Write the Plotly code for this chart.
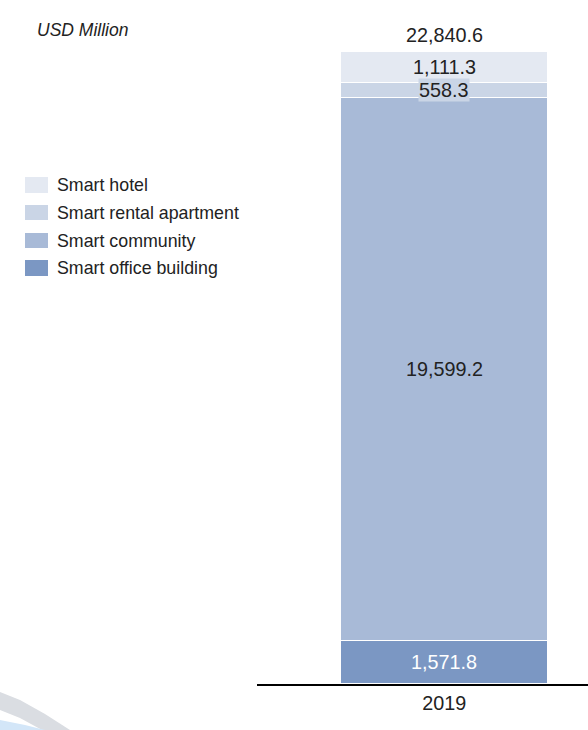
import plotly.graph_objects as go

categories = ["2019"]
series_names = ["Smart office building", "Smart community", "Smart rental apartment", "Smart hotel"]
series_values = [[1571.8], [19599.2], [558.3], [1111.3]]
series_colors = ["#7b97c3", "#a8bad7", "#cad5e6", "#e4e9f2"]
value_labels = ["1,571.8", "19,599.2", "558.3", "1,111.3"]
total_value = 22840.6
total_label = "22,840.6"
unit_label = "USD Million"

FONT = "Liberation Sans, Arial, sans-serif"
VAL_SIZE = 19.8

fig = go.Figure()
for name, vals, col in zip(series_names, series_values, series_colors):
    fig.add_trace(go.Bar(
        x=categories, y=vals, name=name, marker_color=col,
        marker_line_color="white", marker_line_width=1.5,
        width=0.625, showlegend=False, hoverinfo="skip",
    ))

# value labels
cat_idx = 0
cum = 0
for i, (vals, lab) in enumerate(zip(series_values, value_labels)):
    v = vals[0]
    mid = cum + v / 2
    cum += v
    kw = dict(x=cat_idx, y=mid, text=lab, showarrow=False)
    if i == 0:
        fig.add_annotation(**kw, font=dict(family=FONT, size=VAL_SIZE, color="white"))
    elif i == 2:
        fig.add_annotation(**kw, bgcolor=series_colors[2], borderpad=0,
                           font=dict(family=FONT, size=VAL_SIZE, color="#222222"))
    else:
        fig.add_annotation(**kw, font=dict(family=FONT, size=VAL_SIZE, color="#222222"))

fig.add_annotation(x=cat_idx, y=total_value, text=total_label, showarrow=False,
                   yanchor="bottom", yshift=4,
                   font=dict(family=FONT, size=VAL_SIZE, color="#222222"))

fig.add_annotation(xref="paper", yref="paper", x=(35 - 257) / 331, y=(684 - 30) / 632,
                   text="<i>" + unit_label + "</i>", showarrow=False,
                   xanchor="left", yanchor="middle",
                   font=dict(family=FONT, size=17.5, color="#222222"))

# custom legend (top to bottom: hotel, rental, community, office)
legend_rows = [(177, 193), (205, 220), (233, 248), (260, 276)]
shapes = []
for (y0, y1), name, col in zip(legend_rows, series_names[::-1], series_colors[::-1]):
    shapes.append(dict(type="rect", xref="paper", yref="paper",
                       x0=(25 - 257) / 331, x1=(48 - 257) / 331,
                       y0=(684 - y1) / 632, y1=(684 - y0) / 632,
                       fillcolor=col, line=dict(width=0), layer="above"))
    fig.add_annotation(xref="paper", yref="paper", x=(55 - 257) / 331,
                       y=(684 - (y0 + y1) / 2) / 632, text=name, showarrow=False,
                       xanchor="left", yanchor="middle",
                       font=dict(family=FONT, size=17.8, color="#222222"))

# decorative swoosh bottom-left
def px(xp, yp):
    return (xp - 257) / 331, (684 - yp) / 632

def path(points):
    s = ""
    for k, (a, b) in enumerate(points):
        X, Y = px(a, b)
        s += ("M" if k == 0 else " L") + f" {X:.4f} {Y:.4f}"
    return s + " Z"

shapes.append(dict(type="path", xref="paper", yref="paper",
                   path=path([(0, 692), (20, 700), (45, 714), (70, 730), (42, 730), (20, 718), (0, 710)]),
                   fillcolor="#dadde2", line=dict(width=0)))
shapes.append(dict(type="path", xref="paper", yref="paper",
                   path=path([(0, 720), (25, 725), (45, 730), (0, 730)]),
                   fillcolor="#d3e6f8", line=dict(width=0)))

fig.update_layout(
    width=588, height=730,
    margin=dict(l=257, r=0, t=52, b=46),
    paper_bgcolor="white", plot_bgcolor="white",
    barmode="stack", bargap=0,
    shapes=shapes,
    xaxis=dict(type="category", range=[-0.566, 0.434], showgrid=False, zeroline=False,
               showline=True, linecolor="#000000", linewidth=1.5,
               ticks="", tickfont=dict(family=FONT, size=VAL_SIZE, color="#222222")),
    yaxis=dict(range=[0, total_value], visible=False),
    font=dict(family=FONT),
)

fig.write_html("out.html", config={"displayModeBar": False},
               post_script="document.body.style.margin='0';")
